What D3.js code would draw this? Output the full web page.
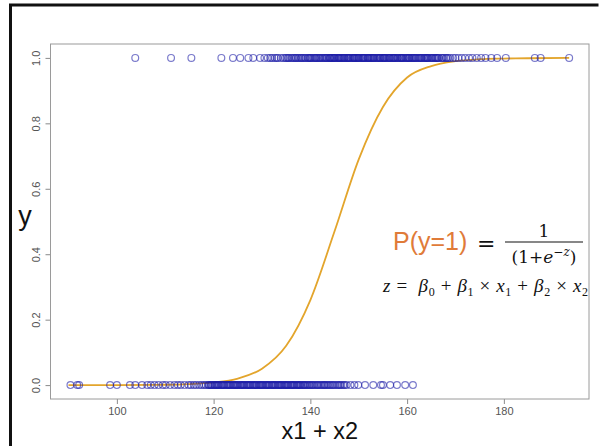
<!DOCTYPE html>
<html><head><meta charset="utf-8">
<script src="https://cdn.jsdelivr.net/npm/d3@7"></script>
<style>body{margin:0;background:#fff}svg{display:block}</style>
</head><body>
<svg id="c" width="601" height="446"></svg>
<script>
// ---- data ----
const xTicks = [100, 120, 140, 160, 180];
const yTicks = [0, 0.2, 0.4, 0.6, 0.8, 1.0];
// observations with y = 1 (x1 + x2)
const xOnes = [103.8,111.2,115.4,121.6,124.0,125.5,127.2,128.2,129.6,130.5,
131.2,131.7,132.1,132.6,133.0,133.3,133.9,134.4,134.8,135.1,135.6,136.0,136.3,136.9,137.4,137.7,138.2,138.5,139.0,139.4,139.8,140.2,140.5,141.0,141.4,141.7,142.1,142.6,142.9,143.3,143.8,144.1,144.5,144.9,145.2,145.7,146.0,146.4,146.8,147.1,147.6,147.9,148.3,148.8,149.1,149.5,149.9,150.2,150.7,151.0,151.4,151.9,152.2,152.6,153.0,153.3,153.8,154.2,154.5,155.0,155.3,155.7,156.2,156.5,157.0,157.3,157.7,158.1,158.6,158.9,159.3,159.8,160.2,160.5,161.0,161.4,161.8,162.3,162.7,163.1,163.6,164.0,164.3,164.9,165.3,165.8,166.2,166.6,167.1,167.6,168.0,168.5,168.9,169.5,170.0,170.6,171.3,172.0,172.8,173.5,174.4,175.3,176.2,177.4,178.6,180.4,186.4,187.6,193.5,
135.4,136.6,137.1,138.0,138.8,139.6,140.0,140.8,141.2,141.9,142.4,143.1,143.5,144.0,144.3,144.7,145.0,145.5,145.9,146.2,146.6,147.0,147.4,147.8,148.1,148.6,149.0,149.3,149.7,150.0,150.5,150.9,151.2,151.7,152.0,152.4,152.8,153.1,153.6,154.0,154.4,154.8,155.2,155.5,156.0,156.4,156.8,157.2,157.5,158.0,158.4,158.8,159.1,159.6,160.0,160.4,160.8,161.2,161.6,162.0,162.5,162.9,163.4,163.8,164.2,164.6,165.1,165.6,166.0,166.4,167.3,168.2];
// observations with y = 0
const xZeros = [90.4,91.8,92.2,98.6,100.0,102.7,103.8,105.2,106.3,107.0,107.8,108.6,109.5,110.1,111.0,111.9,112.6,113.2,114.0,114.8,115.3,115.9,116.4,117.0,117.5,118.0,118.4,118.9,119.3,119.7,120.2,120.6,121.0,121.5,121.9,122.3,122.8,123.2,123.6,124.1,124.5,124.9,125.4,125.8,126.2,126.7,127.1,127.5,128.0,128.4,128.8,129.3,129.7,130.1,130.6,131.0,131.4,131.9,132.3,132.7,133.2,133.6,134.0,134.5,134.9,135.3,135.8,136.2,136.6,137.1,137.5,137.9,138.4,138.8,139.3,139.8,140.3,140.8,141.4,141.9,142.5,143.0,143.6,144.2,144.8,145.5,146.1,146.8,147.5,148.3,149.1,149.9,151.3,153.0,154.6,155.0,156.5,157.9,159.6,161.2,
119.0,119.5,120.0,120.4,120.8,121.2,121.7,122.1,122.6,123.0,123.4,123.9,124.3,124.7,125.1,125.6,126.0,126.4,126.9,127.3,127.7,128.2,128.6,129.0,129.5,129.9,130.3,130.8,131.2,131.6,132.1,132.5,132.9,133.4,133.8,134.2,134.7,135.1,135.5,136.0,136.4,136.8,137.3,137.7,138.1,138.6,139.0,139.5,140.0,140.5,141.1,141.6,142.2,142.8,143.3,143.9,144.5,145.1,145.8,146.4,147.1];
// fitted probability curve
const curveX = [90, 100, 110, 115, 120, 125, 130, 135, 140, 145, 150, 155, 160, 165, 170, 175, 180, 185, 193.5];
const curveP = [0.000, 0.0002, 0.001, 0.003, 0.008, 0.02, 0.05, 0.12, 0.26, 0.47, 0.69, 0.85, 0.94, 0.975, 0.99, 0.996, 0.998, 0.999, 1.0];

// ---- layout ----
const svg = d3.select("#c");
const L = 50.5, R = 589, T = 44, B = 399;
const x = d3.scaleLinear().domain([86.28, 197.6]).range([L, R]);
const y = d3.scaleLinear().domain([-0.0425, 1.0425]).range([B, T]);

// outer frame (partial)
svg.append("path").attr("d", `M10.5,446 L10.5,5 L598.5,5`)
  .attr("fill", "none").attr("stroke", "#111").attr("stroke-width", 3);

// axes
const gx = svg.append("g").attr("transform", `translate(0,${B})`)
  .call(d3.axisBottom(x).tickValues(xTicks).tickSize(5).tickPadding(3).tickFormat(d3.format("d")));
const gy = svg.append("g").attr("transform", `translate(${L},0)`)
  .call(d3.axisLeft(y).tickValues(yTicks).tickSize(5).tickFormat(d3.format(".1f")));
[gx, gy].forEach(g => {
  g.select(".domain").remove();
  g.selectAll(".tick line").attr("stroke", "#8a8a8a");
  g.selectAll(".tick text").attr("fill", "#555").style("font-family", "Liberation Sans, Arial, sans-serif").style("font-size", "11px");
});
gy.selectAll(".tick text").attr("transform", "rotate(-90)").attr("x", 0).attr("y", -11).attr("dy", 0).attr("text-anchor", "middle");

// box
svg.append("rect").attr("x", L).attr("y", T).attr("width", R - L).attr("height", B - T)
  .attr("fill", "none").attr("stroke", "#9a9a9a").attr("stroke-width", 1);

// curve
const line = d3.line().x((d, i) => x(curveX[i])).y((d, i) => y(curveP[i])).curve(d3.curveMonotoneX);
svg.append("path").datum(curveX).attr("d", line).attr("fill", "none")
  .attr("stroke", "#e3a52c").attr("stroke-width", 1.8);

// points
const pts = svg.append("g");
function drawPts(arr, val) {
  pts.selectAll(null).data(arr).enter().append("circle")
    .attr("cx", d => x(d)).attr("cy", y(val)).attr("r", 3.4)
    .attr("fill", "none").attr("stroke", "rgba(25,25,165,0.58)").attr("stroke-width", 1.2);
}
drawPts(xOnes, 1);
drawPts(xZeros, 0);

// axis titles
svg.append("text").attr("x", (L + R) / 2).attr("y", 439).attr("text-anchor", "middle")
  .style("font-family", "Liberation Sans, Arial, sans-serif").style("font-size", "23.5px").attr("fill", "#111").text("x1 + x2");
svg.append("text").attr("x", 25).attr("y", 225).attr("text-anchor", "middle")
  .style("font-family", "Liberation Sans, Arial, sans-serif").style("font-size", "27px").attr("fill", "#111").text("y");

// formula
const f = svg.append("g");
f.append("text").attr("x", 393).attr("y", 250).style("font-family", "Liberation Sans, Arial, sans-serif")
  .style("font-size", "25px").attr("fill", "#e07b39").text("P(y=1)");
f.append("text").attr("x", 477).attr("y", 251).style("font-family", "DejaVu Sans, sans-serif")
  .style("font-size", "22px").attr("fill", "#111").text("=");
f.append("text").attr("x", 544).attr("y", 237).attr("text-anchor", "middle")
  .style("font-family", "DejaVu Serif, serif").style("font-size", "17px").attr("fill", "#111").text("1");
f.append("line").attr("x1", 505).attr("x2", 583).attr("y1", 242).attr("y2", 242).attr("stroke", "#111").attr("stroke-width", 1.2);
const den = f.append("text").attr("x", 544).attr("y", 263).attr("text-anchor", "middle")
  .style("font-family", "DejaVu Serif, serif").style("font-size", "17px").attr("fill", "#111");
den.append("tspan").text("(1+");
den.append("tspan").style("font-style", "italic").text("e");
den.append("tspan").attr("dy", -7).style("font-size", "12px").style("font-style", "italic").text("−z");
den.append("tspan").attr("dy", 7).text(")");

// second line: z = b0 + b1 x x1 + b2 x x2
const z = f.append("text").attr("x", 383).attr("y", 292)
  .style("font-family", "Liberation Serif, serif").style("font-size", "19px").attr("fill", "#111")
  .style("white-space", "pre").attr("textLength", 205).attr("lengthAdjust", "spacing");
const parts = [
  ["z", "i"], [" =  ", "n"], ["β", "i"], ["0", "s"], [" + ", "n"], ["β", "i"], ["1", "s"], [" × ", "n"],
  ["x", "i"], ["1", "s"], [" + ", "n"], ["β", "i"], ["2", "s"], [" × ", "n"], ["x", "i"], ["2", "s"]
];
let down = false;
parts.forEach(([t, k]) => {
  const ts = z.append("tspan").text(t);
  if (k === "s") { ts.attr("dy", 4).style("font-size", "12px"); down = true; }
  else {
    if (down) { ts.attr("dy", -4); down = false; }
    if (k === "i") ts.style("font-style", "italic");
  }
});
</script>
</body></html>
